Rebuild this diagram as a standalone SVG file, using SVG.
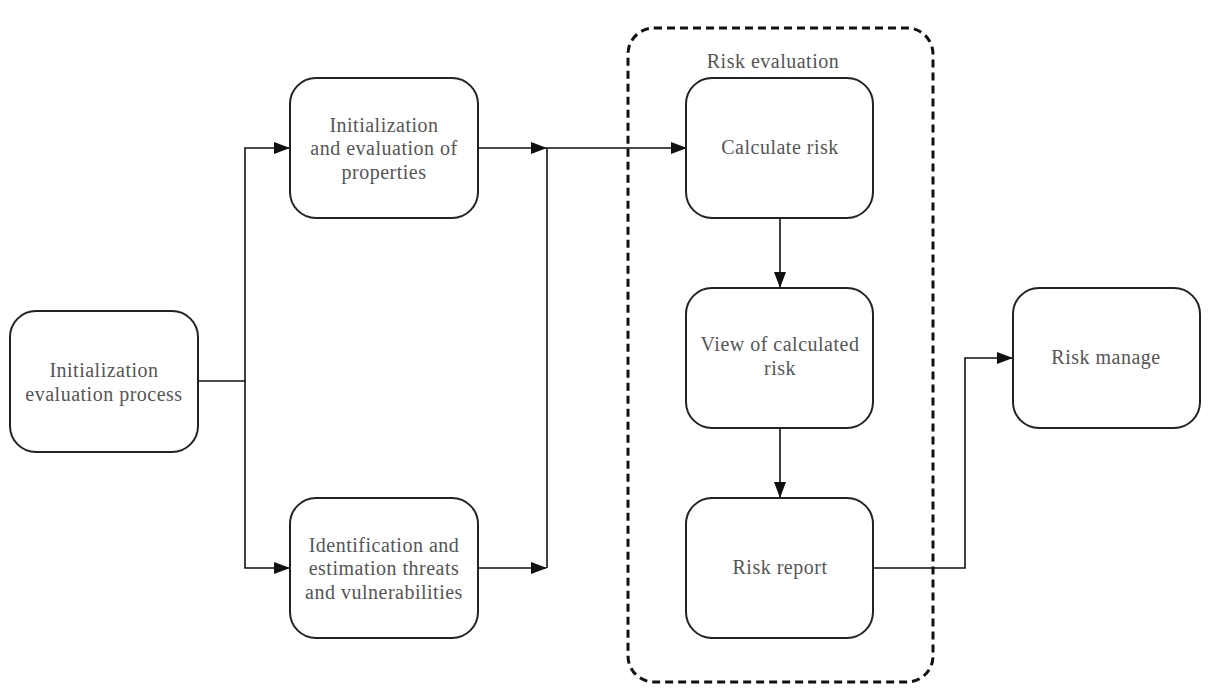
<svg xmlns="http://www.w3.org/2000/svg" width="1214" height="689" viewBox="0 0 1214 689">
<style>
.box{fill:#fff;stroke:#222;stroke-width:2}
.lbl{font-family:"Liberation Serif",serif;font-size:20px;letter-spacing:0.5px;fill:#555;text-anchor:middle}
.con{fill:none;stroke:#111;stroke-width:1.6}
.grp{fill:none;stroke:#111;stroke-width:3;stroke-dasharray:8,5}
</style>
<defs>
<marker id="ah" markerWidth="16" markerHeight="12" refX="15" refY="6" orient="auto" markerUnits="userSpaceOnUse">
<path d="M0,0 L16,6 L0,12 Z" fill="#111"/>
</marker>
</defs>
<rect width="1214" height="689" fill="#fff"/>
<g id="risk-evaluation-group">
<rect class="grp" x="628" y="28" width="305" height="654" rx="26"/>
<text class="lbl" x="773" y="68">Risk evaluation</text>
</g>
<g id="connectors">
<polyline class="con" points="198,381 245,381"/>
<polyline class="con" points="245,381 245,148 289,148" marker-end="url(#ah)"/>
<polyline class="con" points="245,381 245,568 289,568" marker-end="url(#ah)"/>
<polyline class="con" points="478,148 546,148" marker-end="url(#ah)"/>
<polyline class="con" points="478,568 546,568" marker-end="url(#ah)"/>
<polyline class="con" points="547,568 547,148 686,148" marker-end="url(#ah)"/>
<polyline class="con" points="780,218 780,287" marker-end="url(#ah)"/>
<polyline class="con" points="780,428 780,497" marker-end="url(#ah)"/>
<polyline class="con" points="873,568 965,568 965,358 1012,358" marker-end="url(#ah)"/>
</g>
<g id="init-process">
<rect class="box" x="10" y="311" width="188" height="141" rx="26"/>
<text class="lbl" x="104" y="377">Initialization</text>
<text class="lbl" x="104" y="401">evaluation process</text>
</g>
<g id="init-properties">
<rect class="box" x="290" y="78" width="188" height="140" rx="26"/>
<text class="lbl" x="384" y="132">Initialization</text>
<text class="lbl" x="384" y="155">and evaluation of</text>
<text class="lbl" x="384" y="179">properties</text>
</g>
<g id="identification">
<rect class="box" x="290" y="498" width="188" height="140" rx="26"/>
<text class="lbl" x="384" y="552">Identification and</text>
<text class="lbl" x="384" y="575">estimation threats</text>
<text class="lbl" x="384" y="599">and vulnerabilities</text>
</g>
<g id="calculate-risk">
<rect class="box" x="686" y="78" width="187" height="140" rx="26"/>
<text class="lbl" x="780" y="154">Calculate risk</text>
</g>
<g id="view-risk">
<rect class="box" x="686" y="288" width="187" height="140" rx="26"/>
<text class="lbl" x="780" y="351">View of calculated</text>
<text class="lbl" x="780" y="375">risk</text>
</g>
<g id="risk-report">
<rect class="box" x="686" y="498" width="187" height="140" rx="26"/>
<text class="lbl" x="780" y="574">Risk report</text>
</g>
<g id="risk-manage">
<rect class="box" x="1013" y="288" width="187" height="140" rx="26"/>
<text class="lbl" x="1106" y="364">Risk manage</text>
</g>
</svg>
